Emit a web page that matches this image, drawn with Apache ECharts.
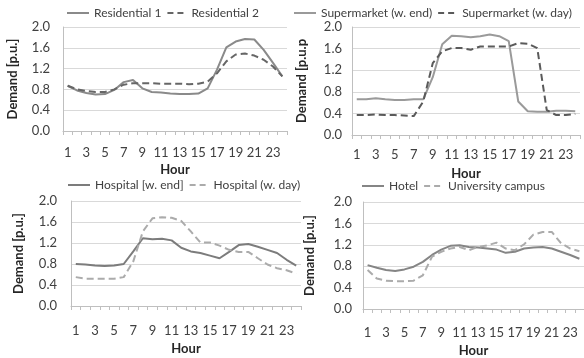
<!DOCTYPE html>
<html>
<head>
<meta charset="utf-8">
<script src="https://cdn.jsdelivr.net/npm/echarts@6/dist/echarts.min.js"></script>
<style>
html,body{margin:0;padding:0;background:#fff;}
#chart{width:584px;height:358px;}
</style>
</head>
<body>
<div id="chart"></div>
<script>
const hours = ['1','2','3','4','5','6','7','8','9','10','11','12','13','14','15','16','17','18','19','20','21','22','23','24'];
const yTicks = [0, 0.4, 0.8, 1.2, 1.6, 2.0];

const residential1 = [0.87,0.78,0.73,0.70,0.71,0.79,0.94,0.98,0.82,0.75,0.74,0.72,0.71,0.71,0.72,0.82,1.18,1.61,1.72,1.77,1.76,1.56,1.31,1.05];
const residential2 = [0.87,0.80,0.77,0.75,0.75,0.80,0.89,0.92,0.92,0.92,0.91,0.91,0.91,0.90,0.91,0.95,1.11,1.34,1.47,1.49,1.45,1.37,1.24,1.05];

const supermarketEnd = [0.66,0.66,0.68,0.66,0.65,0.65,0.66,0.66,1.07,1.68,1.84,1.83,1.81,1.83,1.86,1.83,1.74,0.62,0.44,0.43,0.43,0.45,0.45,0.44];
const supermarketDay = [0.37,0.37,0.38,0.37,0.37,0.36,0.35,0.62,1.33,1.55,1.61,1.61,1.58,1.64,1.64,1.64,1.64,1.70,1.69,1.61,0.46,0.37,0.37,0.39];

const hospitalEnd = [0.80,0.79,0.77,0.76,0.77,0.80,1.04,1.29,1.27,1.28,1.25,1.11,1.04,1.01,0.96,0.91,1.03,1.16,1.18,1.13,1.07,1.01,0.88,0.77];
const hospitalDay = [0.55,0.52,0.52,0.52,0.52,0.55,0.85,1.42,1.67,1.69,1.68,1.62,1.42,1.21,1.21,1.15,1.07,1.03,1.03,0.91,0.79,0.72,0.68,0.62];

const hotel = [0.82,0.77,0.73,0.71,0.74,0.79,0.88,1.01,1.11,1.18,1.19,1.16,1.15,1.13,1.11,1.05,1.07,1.13,1.15,1.16,1.13,1.07,1.01,0.94];
const campus = [0.73,0.57,0.53,0.52,0.52,0.53,0.63,0.98,1.07,1.13,1.16,1.10,1.16,1.19,1.24,1.13,1.10,1.21,1.39,1.44,1.44,1.23,1.13,1.08];

const panels = [
  {names:['Residential 1','Residential 2'], data:[residential1, residential2], yName:'Demand [p.u.]',
   grid:{left:63, top:27, width:224, height:104}, yGap:44, xGap:32, xMargin:15, yMargin:13,
   legend:{left:67, top:7}, colors:['#8a8a8a','#666666']},
  {names:['Supermarket (w. end)','Supermarket (w. day)'], data:[supermarketEnd, supermarketDay], yName:'Demand [p.u.p',
   grid:{left:352, top:27, width:228, height:108}, yGap:44, xGap:32, xMargin:13, yMargin:10,
   legend:{left:294, top:7}, colors:['#9a9a9a','#5a5a5a']},
  {names:['Hospital [w. end]','Hospital (w. day)'], data:[hospitalEnd, hospitalDay], yName:'Demand [p.u.]',
   grid:{left:71, top:201, width:230, height:105}, yGap:46, xGap:36, xMargin:18, yMargin:14,
   legend:{left:68, top:179}, colors:['#7c7c7c','#ababab']},
  {names:['Hotel','University campus'], data:[hotel, campus], yName:'Demand [p.u.]',
   grid:{left:363, top:202, width:228, height:107}, yGap:47, xGap:35, xMargin:17, yMargin:11,
   legend:{left:362, top:180}, colors:['#858585','#ababab']}
];

const SOLID_ICON = 'path://M0,0H22V2H0Z';
const DASH_ICON = 'path://M0,0H6V2H0Z M10,0H16V2H10Z';
const FONT = 'Lato';
const option = {
  animation:false,
  backgroundColor:'#ffffff',
  grid:[], xAxis:[], yAxis:[], series:[], legend:[]
};

panels.forEach((p, i) => {
  option.grid.push(Object.assign({containLabel:false}, p.grid));
  option.xAxis.push({
    type:'category', gridIndex:i, data:hours, boundaryGap:true,
    name:'Hour', nameLocation:'middle', nameGap:p.xGap,
    nameTextStyle:{fontFamily:FONT, fontWeight:'bold', fontSize:13, color:'#262626'},
    axisLine:{show:true, lineStyle:{color:'#bfbfbf', width:1}},
    axisTick:{show:true, interval:0, length:4, lineStyle:{color:'#bfbfbf'}},
    axisLabel:{interval:1, margin:p.xMargin, fontFamily:FONT, fontSize:13, color:'#404040'},
    splitLine:{show:false}
  });
  option.yAxis.push({
    type:'value', gridIndex:i, min:yTicks[0], max:yTicks[yTicks.length-1], interval:yTicks[1]-yTicks[0],
    name:p.yName, nameLocation:'middle', nameGap:p.yGap, nameRotate:90,
    nameTextStyle:{fontFamily:FONT, fontWeight:'bold', fontSize:13, color:'#262626'},
    axisLine:{show:true, lineStyle:{color:'#bfbfbf', width:1}},
    axisTick:{show:false},
    axisLabel:{margin:p.yMargin, fontFamily:FONT, fontSize:13, color:'#404040', formatter:v => v.toFixed(1)},
    splitLine:{show:true, lineStyle:{color:'#d9d9d9', width:1}}
  });
  p.names.forEach((n, k) => {
    option.series.push({
      type:'line', name:n, xAxisIndex:i, yAxisIndex:i, data:p.data[k],
      symbol:'none', showSymbol:false, smooth:false,
      lineStyle:{color:p.colors[k], width:2, type: k===0 ? 'solid' : [7,4]},
      itemStyle:{color:p.colors[k]}
    });
  });
  option.legend.push({
    data:[{name:p.names[0], icon:SOLID_ICON}, {name:p.names[1], icon:DASH_ICON}],
    left:p.legend.left, top:p.legend.top, orient:'horizontal',
    itemWidth:22, itemHeight:2, itemGap:6, padding:0,
    textStyle:{fontFamily:FONT, fontSize:12, color:'#404040'}
  });
});

const chart = echarts.init(document.getElementById('chart'), null, {renderer:'canvas'});
chart.setOption(option);
</script>
</body>
</html>
